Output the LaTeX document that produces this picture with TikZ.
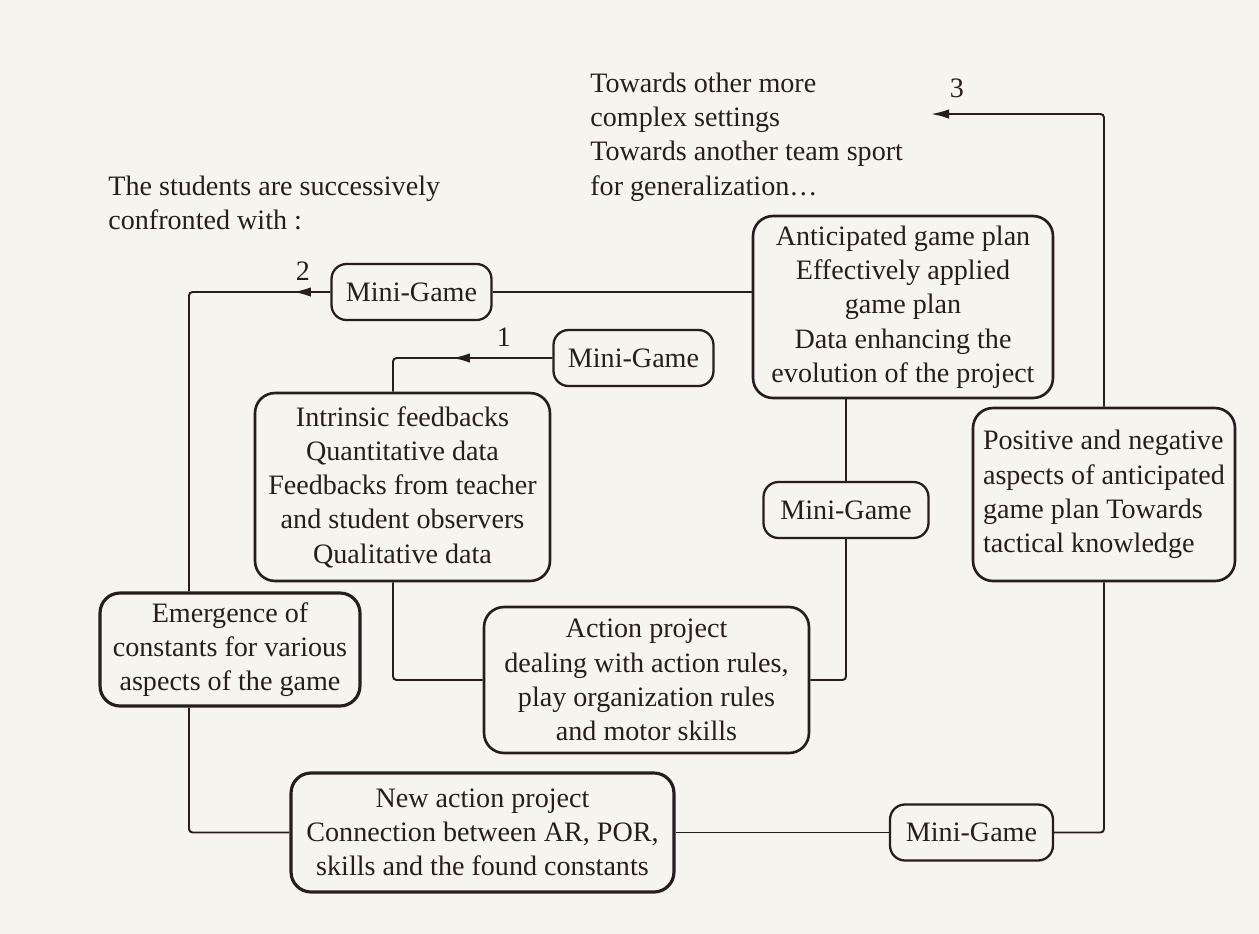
\documentclass[tikz,border=0pt]{standalone}
\usepackage{fontspec}
\setmainfont{Liberation Serif}
\usepackage{xcolor}
\usetikzlibrary{positioning, arrows.meta, calc}

\definecolor{paper}{RGB}{246,244,238}
\definecolor{ink}{RGB}{38,30,30}

\begin{document}
\begin{tikzpicture}[
  x=0.02cm, y=-0.02cm,
  font=\fontsize{16}{19.5}\selectfont, text=ink,
  infobox/.style={rectangle, draw=ink, line width=1.5pt, rounded corners=0.4cm, align=center, inner sep=0pt},
  gamebox/.style={rectangle, draw=ink, line width=1.3pt, rounded corners=0.3cm, align=center, inner sep=0pt, minimum width=3.2cm, minimum height=1.12cm},
  plain/.style={align=left, inner sep=0pt},
  link/.style={draw=ink, line width=1.1pt, rounded corners=2pt},
  arrow/.style={link, -{Latex[length=3.6mm, width=1.9mm]}}
]

% ---------- page ----------
\fill[paper] (0,0) rectangle (1259,934);
\useasboundingbox (0,0) rectangle (1259,934);

% ---------- Free texts ----------
\node[plain, anchor=west] (students) at (108,203) {The students are successively\\confronted with :};
\node[plain, anchor=west] (towards) at (590,137) {Towards other more\\complex settings\\Towards another team sport\\for generalization\dots};

% ---------- Boxes ----------
\node[gamebox] (mg2) at (411.5,292) {Mini-Game};
\node[gamebox] (mg1) at (633.5,358) {Mini-Game};
\node[infobox, minimum width=6cm, minimum height=3.64cm] (plan) at (903,307) {Anticipated game plan\\Effectively applied\\game plan\\Data enhancing the\\evolution of the project};
\node[infobox, minimum width=5.9cm, minimum height=3.76cm] (intr) at (402.5,487) {Intrinsic feedbacks\\Quantitative data\\Feedbacks from teacher\\and student observers\\Qualitative data};
\node[infobox, minimum width=5.2cm, minimum height=2.26cm, line width=1.8pt] (emerg) at (230,649.5) {Emergence of\\constants for various\\aspects of the game};
\node[infobox, minimum width=6.5cm, minimum height=2.92cm] (action) at (646.5,680) {Action project\\dealing with action rules,\\play organization rules\\and motor skills};
\node[gamebox, minimum width=3.3cm] (mgm) at (846,510) {Mini-Game};
\node[infobox, minimum width=5.24cm, minimum height=3.46cm, align=left] (pos) at (1104,494.5) {Positive and negative\\aspects of anticipated\\game plan Towards\\tactical knowledge};
\node[infobox, minimum width=7.66cm, minimum height=2.38cm, line width=1.8pt] (newact) at (482.5,832.5) {New action project\\Connection between AR, POR,\\skills and the found constants};
\node[gamebox, minimum width=3.26cm] (mgb) at (971.5,832.5) {Mini-Game};

% ---------- Step numbers ----------
\node[plain] (n1) at (504,337) {1};
\node[plain] (n2) at (303,271) {2};
\node[plain] (n3) at (957,88) {3};

% ---------- Corners and arrow tips ----------
\coordinate (t1) at (452,358);
\coordinate (c1) at (393,358);
\coordinate (t2) at (293,292);
\coordinate (c2) at (189,292);
\coordinate (t3) at (931,114);

% ---------- Arrows ----------
\draw[link] (mg2.west) -- (c2) -- (c2 |- emerg.north);
\draw[arrow] (mg2.west) -- (t2);
\draw[link] (c2 |- emerg.south) |- (newact.west);
\draw[link] (mg2.east) -- (mg2.east -| plan.west);
\draw[link] (mg1.west) -- (c1) -- (c1 |- intr.north);
\draw[arrow] (mg1.west) -- (t1);
\draw[link] (c1 |- intr.south) |- (action.west);
\draw[link] (action.east) -| (mgm.south);
\draw[link] (mgm.north) -- (mgm.north |- plan.south);
\draw[link] (newact.east) -- (mgb.west);
\draw[link] (mgb.east) -| (pos.south);
\draw[arrow] (pos.north) |- (t3);

\end{tikzpicture}
\end{document}
